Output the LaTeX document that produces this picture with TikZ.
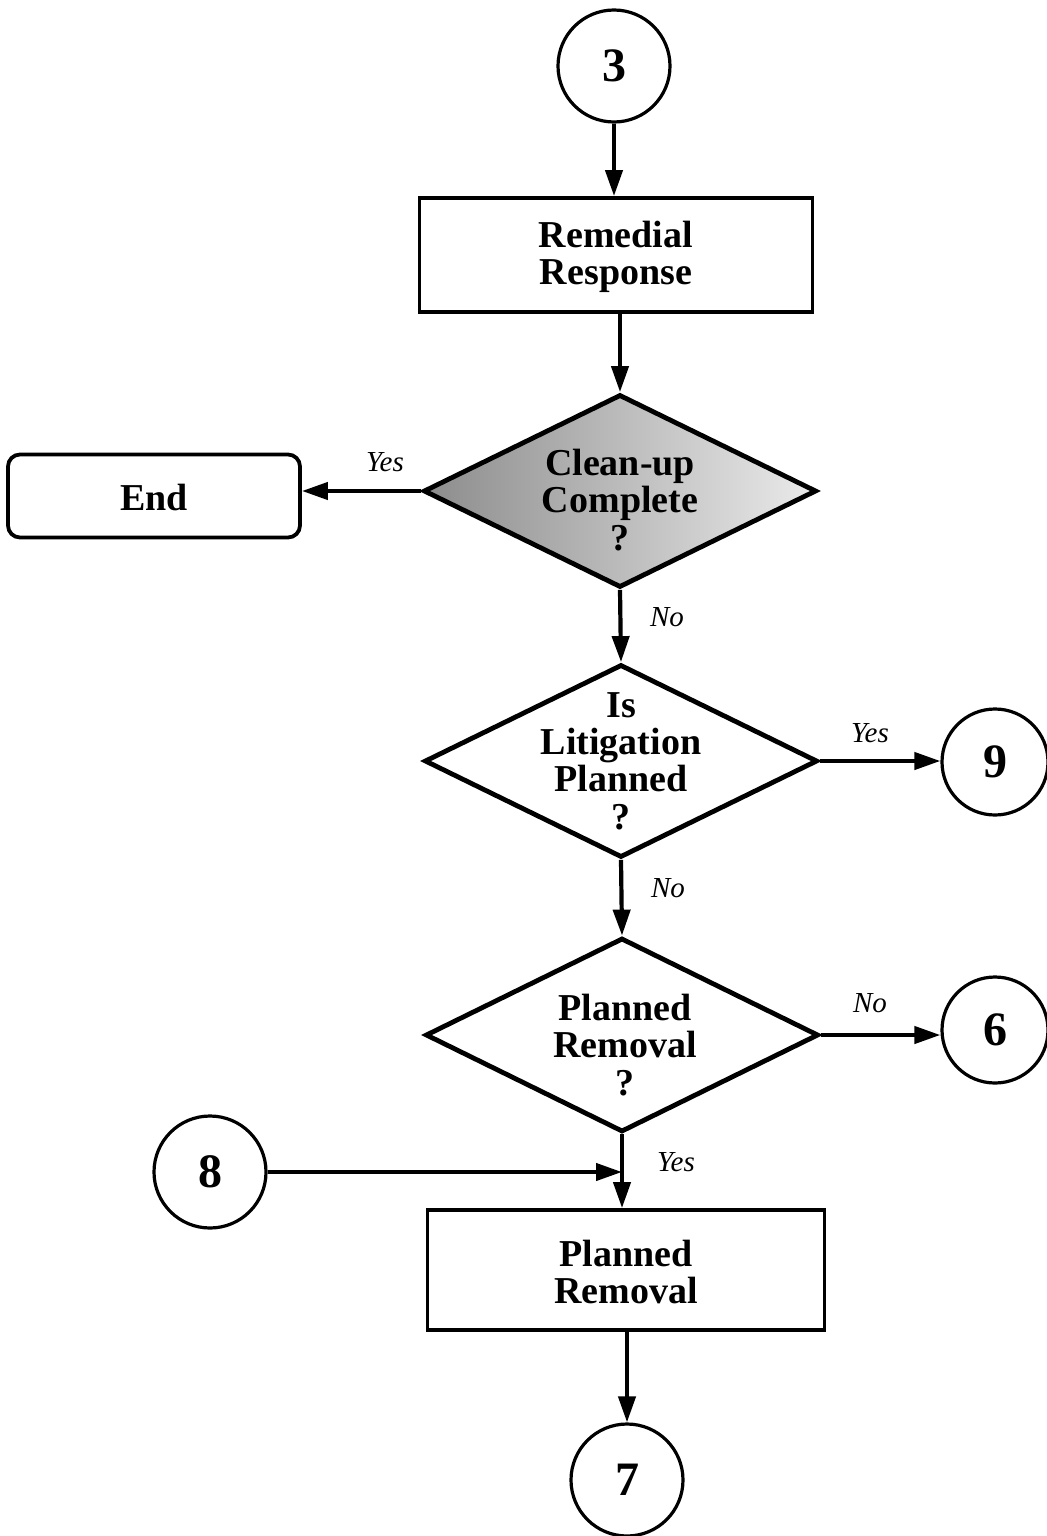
\documentclass[tikz,border=0pt]{standalone}
\usepackage{fontspec}
\setmainfont{Liberation Serif}
\usetikzlibrary{shapes.geometric,arrows.meta}
\tikzset{
  arr/.style={line width=2.1pt,-{Triangle[length=13pt,width=8.5pt]}},
  conn/.style={circle,draw,line width=1.6pt,inner sep=0pt,font=\fontsize{24}{24}\selectfont\bfseries},
  procbox/.style={rectangle,draw,line width=1.9pt,inner sep=0pt},
  decis/.style={diamond,draw,line width=2.4pt,inner sep=0pt,minimum width=196.5pt,minimum height=96.5pt},
  txt/.style={align=center,inner sep=0pt,font=\fontsize{19}{18.7}\selectfont\bfseries},
  lab/.style={inner sep=0pt,font=\fontsize{14.5}{14.5}\selectfont\itshape},
}
\begin{document}
\begin{tikzpicture}[x=0.5pt,y=-0.5pt]
\useasboundingbox (0,0) rectangle (1046,1536);
\node[conn,minimum size=56pt] (c3) at (614,66) {3};
\node[procbox,minimum width=196.5pt,minimum height=57pt] (rr) at (616,255) {};
\node[txt] (rrt) at (616,257) {Remedial\\Response};
\node[decis,left color=black!45,right color=black!8] (d1) at (620,491) {};
\node[txt] (d1t) at (620,500) {Clean-up\\Complete\\?};
\node[procbox,rounded corners=6pt,minimum width=146pt,minimum height=41.5pt] (end) at (154,496) {};
\node[txt] (endt) at (154,497) {End};
\node[decis] (d2) at (621,761) {};
\node[txt] (d2t) at (621,761) {Is\\Litigation\\Planned\\?};
\node[conn,minimum size=53pt] (c9) at (995,762) {9};
\node[decis,minimum height=97pt] (d3) at (622,1035) {};
\node[txt] (d3t) at (625,1045) {Planned\\Removal\\?};
\node[conn,minimum size=53pt] (c6) at (995,1030) {6};
\node[conn,minimum size=56pt] (c8) at (210,1172) {8};
\node[procbox,minimum width=198.5pt,minimum height=60pt] (pr) at (626,1270) {};
\node[txt] (prt) at (626,1272) {Planned\\Removal};
\node[conn,minimum size=56pt] (c7) at (627,1480) {7};
\draw[arr] (c3.south) -- (c3.south |- rr.north);
\draw[arr] (rr.south -| d1.north) -- (d1.north);
\draw[arr] (d1.west) -- (end.east |- d1.west);
\draw[arr] (d1.south) -- (d2.north);
\draw[arr] (d2.east) -- (c9.west |- d2.east);
\draw[arr] (d2.south) -- (d3.south |- d3.north);
\draw[arr] (d3.east) -- (c6.west |- d3.east);
\coordinate (j) at (d3.south |- c8.east);
\draw[arr] (d3.south) -- (d3.south |- pr.north);
\draw[arr] (c8.east) -- (j);
\draw[arr] (pr.south -| c7.north) -- (c7.north);
\node[lab] (l1) at (385,462) {Yes};
\node[lab] (l2) at (667,617) {No};
\node[lab] (l3) at (870,733) {Yes};
\node[lab] (l4) at (668,888) {No};
\node[lab] (l5) at (870,1003) {No};
\node[lab] (l6) at (676,1162) {Yes};
\end{tikzpicture}
\end{document}
